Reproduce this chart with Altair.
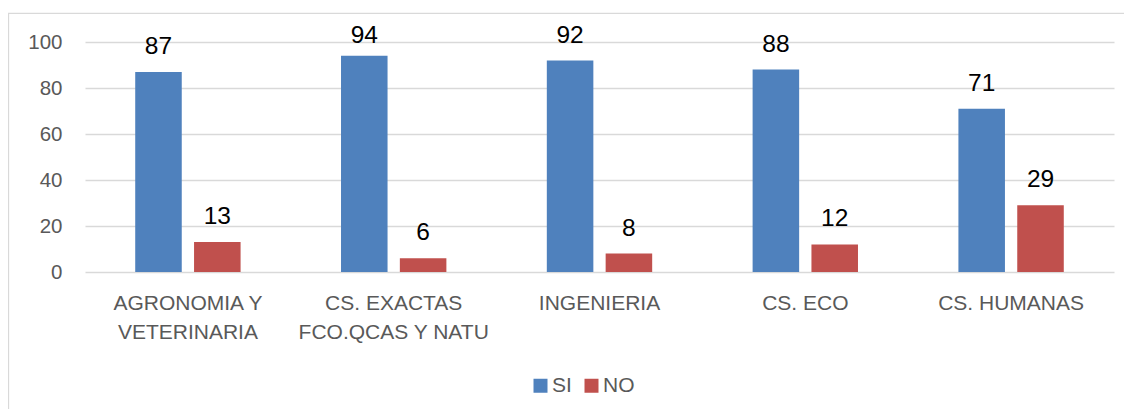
import altair as alt
import pandas as pd

categories = ["AGRONOMIA Y\nVETERINARIA", "CS. EXACTAS\nFCO.QCAS Y NATU", "INGENIERIA", "CS. ECO", "CS. HUMANAS"]
series = ["SI", "NO"]
si_values = [87, 94, 92, 88, 71]
no_values = [13, 6, 8, 12, 29]
y_ticks = [0, 20, 40, 60, 80, 100]
colors = ["#4F81BD", "#C0504D"]

rows = []
for c, s, n in zip(categories, si_values, no_values):
    rows.append({"cat": c, "serie": "SI", "valor": s})
    rows.append({"cat": c, "serie": "NO", "valor": n})
df = pd.DataFrame(rows)

FONT = "Liberation Sans"
GRAY = "#595959"

x_enc = alt.X(
    "cat:N", sort=categories, title=None,
    scale=alt.Scale(paddingInner=0.488, paddingOuter=0.244),
    axis=alt.Axis(labelAngle=0, labelExpr="split(datum.label, '\\n')",
                  labelFont=FONT, labelFontSize=21, labelColor=GRAY,
                  labelLineHeight=29, labelPadding=20, labelBaseline="top",
                  labelLimit=400, ticks=False, tickSize=0, domain=False, grid=False),
)
xoff = alt.XOffset("serie:N", sort=series, scale=alt.Scale(paddingInner=0.209, paddingOuter=0))
y_scale = alt.Scale(domain=[0, 100], nice=False)

border = alt.Chart(pd.DataFrame({"k": [0]})).mark_rect(
    fillOpacity=0, stroke="#D9D9D9", strokeWidth=1.3
).encode(x=alt.value(-76.5), x2=alt.value(1100), y=alt.value(-28.7), y2=alt.value(420))

bars = alt.Chart(df).mark_bar().encode(
    x=x_enc,
    xOffset=xoff,
    y=alt.Y("valor:Q", scale=y_scale, title=None,
            axis=alt.Axis(values=y_ticks, labelFont=FONT, labelFontSize=20.5, labelColor=GRAY,
                          labelPadding=23, ticks=False, tickSize=0, domain=False,
                          gridColor="#D9D9D9", gridWidth=1.3)),
    color=alt.Color("serie:N", sort=series, scale=alt.Scale(domain=series, range=colors),
                    legend=alt.Legend(title=None, orient="none", legendX=445, legendY=333,
                                      direction="horizontal", symbolType="square", symbolSize=196,
                                      symbolStrokeWidth=0, labelFont=FONT, labelFontSize=21,
                                      labelColor=GRAY, columnPadding=9, labelOffset=1, padding=0)),
)

labels = alt.Chart(df).transform_calculate(
    ly="min(datum.valor + 7.8, 99.6)"
).mark_text(font=FONT, fontSize=24.5, color="#000000", baseline="alphabetic").encode(
    x=x_enc,
    xOffset=xoff,
    y=alt.Y("ly:Q", scale=y_scale),
    text=alt.Text("valor:Q"),
)

chart = alt.layer(border, bars, labels).properties(
    width=1029, height=230,
    autosize=alt.AutoSizeParams(type="none"),
    padding={"left": 77, "top": 34, "right": 10, "bottom": 137},
).configure_view(strokeWidth=0)

chart.save("out.html", embed_options={"renderer": "svg", "actions": False})
